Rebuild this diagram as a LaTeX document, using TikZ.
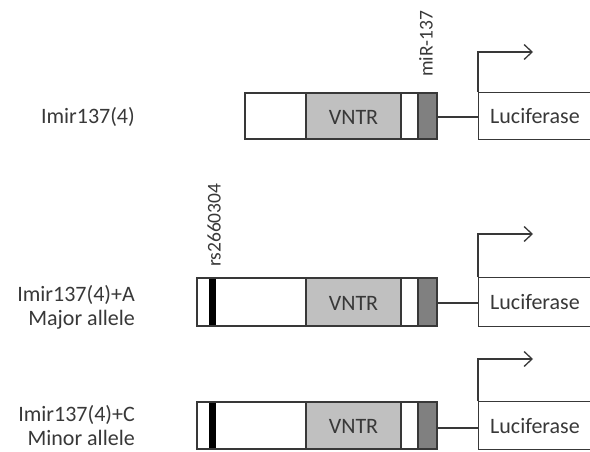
\documentclass[tikz,border=0pt]{standalone}
\usepackage{fontspec}
\setmainfont{Carlito}
\usetikzlibrary{arrows.meta}
\definecolor{ink}{HTML}{383838}
\definecolor{vntr}{HTML}{C0C0C0}
\definecolor{mirbox}{HTML}{808080}
\tikzset{
  seg/.style={draw=ink, line width=1.3pt},
  lbl/.style={text=ink, font=\fontsize{22}{24}\selectfont, inner sep=0pt},
  vlbl/.style={text=ink, font=\fontsize{19.5}{22}\selectfont, inner sep=0pt, rotate=90},
  luc/.style={draw=ink, line width=1.3pt, rectangle, minimum width=140pt, anchor=north west, inner sep=0pt},
  wire/.style={draw=ink, line width=1.3pt},
  tss/.style={draw=ink, line width=1.3pt, -{Straight Barb[length=8pt,width=15pt,line width=1.3pt]}},
}
\begin{document}
\begin{tikzpicture}[x=1pt,y=-1pt]
\useasboundingbox (0,0) rectangle (590,452);
\clip (0,0) rectangle (590,452);
% ---------- row 1 ----------
\node[lbl, anchor=east] (l1) at (135,117) {Imir137(4)};
\path[seg, fill=white] (245,93) rectangle (306,139);
\path[seg, fill=vntr] (306,93) rectangle (401,139);
\node[lbl] (v1) at (353.5,117) {VNTR};
\path[seg, fill=white] (401,93) rectangle (418,139);
\path[seg, fill=mirbox] (418,93) rectangle (437,139);
\coordinate (e1) at (437,117);
\node[luc, minimum height=47pt] (luc1) at (478,92) {};
\node[lbl, anchor=west] (t1) at (490,116) {Luciferase};
\draw[wire] (e1) -- (e1 -| luc1.west);
\coordinate (a1) at (533,52);
\draw[tss] (luc1.north west) |- (a1);
\node[vlbl, anchor=west] (mir) at (426,77) {miR-137};
% ---------- row 2 ----------
\node[lbl, anchor=east, align=right] (l2) at (135,307) {Imir137(4)+A\\Major allele};
\path[seg, fill=white] (197,278) rectangle (306,326);
\path[fill=black] (209,278) rectangle (216,326);
\path[seg, fill=vntr] (306,278) rectangle (401,326);
\node[lbl] (v2) at (353.5,303) {VNTR};
\path[seg, fill=white] (401,278) rectangle (418,326);
\path[seg, fill=mirbox] (418,278) rectangle (437,326);
\draw[seg] (197,278) rectangle (306,326);
\coordinate (e2) at (437,303);
\node[luc, minimum height=49pt] (luc2) at (478,277) {};
\node[lbl, anchor=west] (t2) at (490,302) {Luciferase};
\draw[wire] (e2) -- (e2 -| luc2.west);
\coordinate (a2) at (533,234);
\draw[tss] (luc2.north west) |- (a2);
\node[vlbl, anchor=west] (rs) at (214,267) {rs2660304};
% ---------- row 3 ----------
\node[lbl, anchor=east, align=right] (l3) at (135,426) {Imir137(4)+C\\Minor allele};
\path[seg, fill=white] (197,402) rectangle (306,449);
\path[fill=black] (209,402) rectangle (216,449);
\path[seg, fill=vntr] (306,402) rectangle (401,449);
\node[lbl] (v3) at (353.5,426) {VNTR};
\path[seg, fill=white] (401,402) rectangle (418,449);
\path[seg, fill=mirbox] (418,402) rectangle (437,449);
\draw[seg] (197,402) rectangle (306,449);
\coordinate (e3) at (437,428);
\node[luc, minimum height=48pt] (luc3) at (478,401) {};
\node[lbl, anchor=west] (t3) at (490,426) {Luciferase};
\draw[wire] (e3) -- (e3 -| luc3.west);
\coordinate (a3) at (533,359);
\draw[tss] (luc3.north west) |- (a3);
\end{tikzpicture}
\end{document}
